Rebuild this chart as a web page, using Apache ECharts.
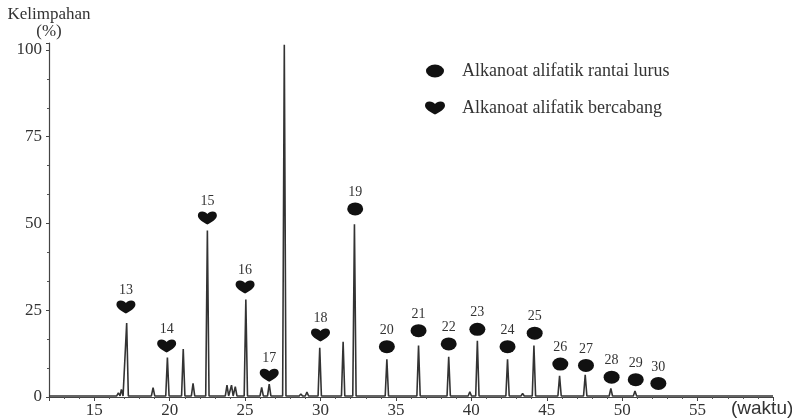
<!DOCTYPE html>
<html>
<head>
<meta charset="utf-8">
<script src="https://cdn.jsdelivr.net/npm/echarts@6/dist/echarts.min.js"></script>
<style>html,body{margin:0;padding:0;background:#fff;}#c{width:792px;height:420px;}</style>
</head>
<body>
<div id="c"></div>
<script>
// Retention times (waktu) and abundances (%) of all peaks in the chromatogram
const peakTimes   = [16.6, 16.8, 17.15, 18.9, 19.85, 20.9, 21.55, 22.5, 23.8, 24.1, 24.35, 25.05, 26.1, 26.6, 27.6, 28.7, 29.1, 29.95, 31.5, 32.25, 34.4, 35.7, 36.5, 38.5, 39.9, 40.4, 42.4, 43.4, 44.15, 45.85, 47.55, 49.25, 50.85, 52.4, 53.9];
const peakHeights = [1.2, 2.2, 21.3, 2.7, 11.4, 13.8, 3.9, 48.0, 3.4, 3.4, 3.0, 28.1, 2.8, 3.7, 101.5, 0.9, 1.4, 14.2, 15.9, 49.8, 10.9, 0.8, 14.8, 11.6, 1.5, 16.2, 10.9, 1.0, 14.8, 6.1, 6.4, 2.5, 1.7, 0.7, 0.5];
const baselineLevel = 0.3;
const timeRange = [12, 60];

// Annotated compounds: number, marker position (time, abundance)
const branchedIds   = ['13', '14', '15', '16', '17', '18'];
const branchedTimes = [17.1, 19.8, 22.5, 25.0, 26.6, 30.0];
const branchedY     = [25.9, 14.7, 51.6, 31.7, 6.3, 17.9];

const straightIds   = ['19', '20', '21', '22', '23', '24', '25', '26', '27', '28', '29', '30'];
const straightTimes = [32.3, 34.4, 36.5, 38.5, 40.4, 42.4, 44.2, 45.9, 47.6, 49.3, 50.9, 52.4];
const straightY     = [54.2, 14.5, 19.1, 15.3, 19.5, 14.5, 18.4, 9.5, 9.1, 5.7, 5.0, 3.9];

const yTicks = [0, 25, 50, 75, 100];
const xTickLabels = [15, 20, 25, 30, 35, 40, 45, 50, 55];

const nameStraight = 'Alkanoat alifatik rantai lurus';
const nameBranched = 'Alkanoat alifatik bercabang';

// Build the chromatogram trace from the peak table
const halfWidth = 0.11;
const trace = [[timeRange[0], baselineLevel]];
peakTimes.forEach((t, i) => {
  trace.push([t - halfWidth, baselineLevel]);
  trace.push([t, peakHeights[i]]);
  trace.push([t + halfWidth, baselineLevel]);
});
trace.push([timeRange[1], baselineLevel]);

const heartPath = 'path://M10,13 C6,11 0,8 0,4 C0,1.5 1.8,0 4.5,0 C7,0 8.8,1 10,2.5 C11.2,1 13,0 15.5,0 C18.2,0 20,1.5 20,4 C20,8 14,11 10,13 Z';
const ellipsePath = 'path://M0,6.5 A9,6.5 0 1,0 18,6.5 A9,6.5 0 1,0 0,6.5 Z';

const serif = '"Liberation Serif", "DejaVu Serif", serif';
const labelStyle = {show: true, position: 'top', distance: 3, fontFamily: serif, fontSize: 14, color: '#333',
  formatter: p => p.data[2]};

const chart = echarts.init(document.getElementById('c'), null, {renderer: 'canvas'});
chart.setOption({
  animation: false,
  backgroundColor: '#fff',
  grid: {left: 49, right: 19, top: 43, bottom: 23, containLabel: false},
  legend: {
    orient: 'vertical', left: 420, top: 57, itemGap: 19, itemWidth: 20, itemHeight: 13,
    textStyle: {fontFamily: serif, fontSize: 18, color: '#333', padding: [0, 0, 0, 12]},
    data: [
      {name: nameStraight, icon: ellipsePath},
      {name: nameBranched, icon: heartPath}
    ]
  },
  xAxis: {
    type: 'value', min: timeRange[0], max: timeRange[1], splitNumber: 10,
    splitLine: {show: false},
    axisLine: {lineStyle: {color: '#444', width: 1.2}},
    axisTick: {show: true, length: 4, lineStyle: {color: '#444'}},
    minorTick: {show: true, splitNumber: 5, length: 2, lineStyle: {color: '#555'}},
    axisLabel: {
      margin: 5, fontFamily: serif, fontSize: 17, color: '#333',
      formatter: v => xTickLabels.indexOf(v) >= 0 ? String(v) : ''
    }
  },
  yAxis: {
    type: 'value', min: 0, max: 102, interval: 25,
    name: 'Kelimpahan\n(%)', nameLocation: 'end', nameGap: 3,
    nameTextStyle: {fontFamily: serif, fontSize: 17, color: '#333', lineHeight: 17, align: 'center'},
    splitLine: {show: false},
    axisLine: {show: true, lineStyle: {color: '#444', width: 1.2}},
    axisTick: {show: true, length: 3, lineStyle: {color: '#444'}},
    minorTick: {show: true, splitNumber: 3, length: 2, lineStyle: {color: '#555'}},
    axisLabel: {
      margin: 7, fontFamily: serif, fontSize: 17, color: '#333',
      formatter: v => yTicks.indexOf(v) >= 0 ? String(v) : ''
    }
  },
  graphic: [{
    type: 'text', left: 731, top: 399,
    style: {text: '(waktu)', font: '19px "Liberation Sans", Arial, sans-serif', fill: '#333'}
  }],
  series: [
    {
      type: 'line', name: 'trace', data: trace, showSymbol: false, symbol: 'none',
      lineStyle: {color: '#333', width: 1.6}, z: 2
    },
    {
      type: 'scatter', name: nameStraight,
      data: straightTimes.map((t, i) => [t, straightY[i], straightIds[i]]),
      symbol: 'circle', symbolSize: [16, 13],
      itemStyle: {color: '#111', opacity: 1}, label: labelStyle, z: 3
    },
    {
      type: 'scatter', name: nameBranched,
      data: branchedTimes.map((t, i) => [t, branchedY[i], branchedIds[i]]),
      symbol: heartPath, symbolSize: [19, 13],
      itemStyle: {color: '#111', opacity: 1}, label: labelStyle, z: 3
    }
  ]
});
</script>
</body>
</html>
